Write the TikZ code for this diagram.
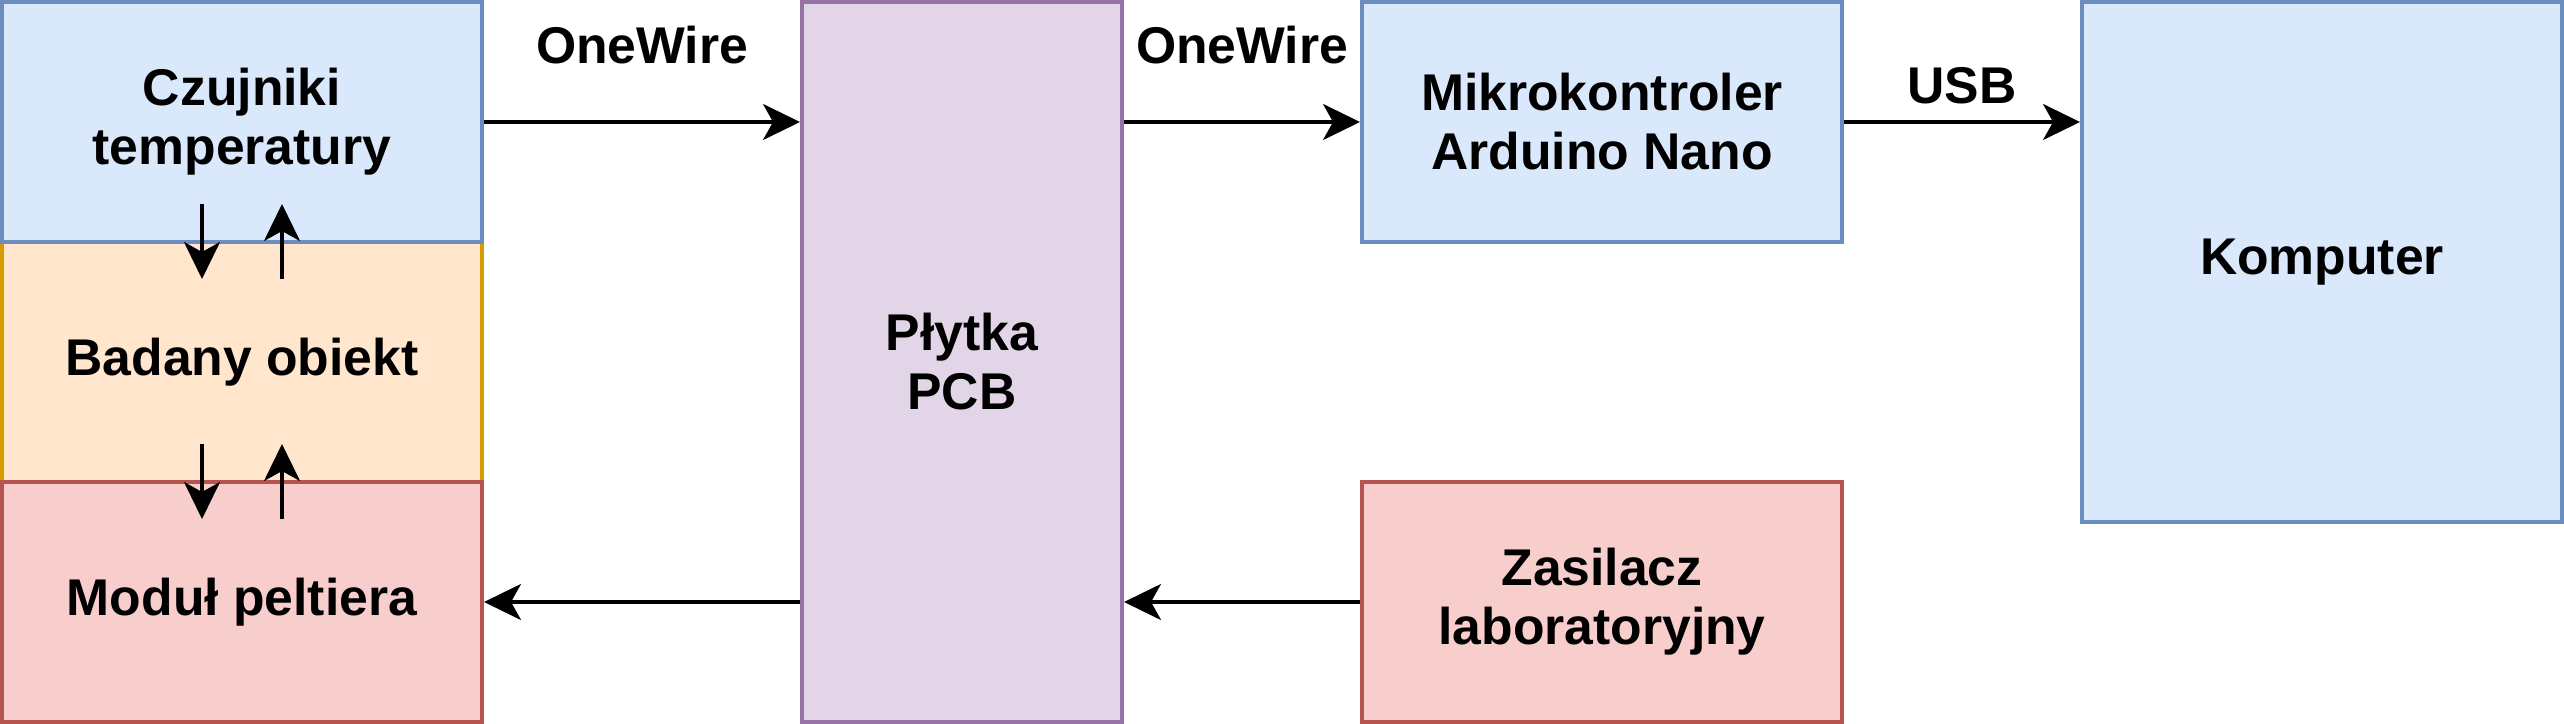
\documentclass[tikz,border=0pt]{standalone}
\usepackage{fontspec}
\setmainfont{Liberation Sans}
\usetikzlibrary{arrows.meta}
\definecolor{bfill}{HTML}{DAE8FC}\definecolor{bdraw}{HTML}{6C8EBF}
\definecolor{ofill}{HTML}{FFE6CC}\definecolor{odraw}{HTML}{D79B00}
\definecolor{rfill}{HTML}{F8CECC}\definecolor{rdraw}{HTML}{B85450}
\definecolor{pfill}{HTML}{E1D5E7}\definecolor{pdraw}{HTML}{9673A6}
\begin{document}
\begin{tikzpicture}[x=0.1mm,y=-0.1mm,>={Stealth[length=3.7mm,width=3.6mm,inset=1mm]},box/.style={draw=bdraw,fill=bfill,line width=0.4mm,minimum width=48mm,minimum height=24mm,align=center,inner sep=0pt,font=\fontsize{14.7}{16.8}\selectfont\bfseries},obox/.style={box,draw=odraw,fill=ofill},rbox/.style={box,draw=rdraw,fill=rfill},pbox/.style={box,draw=pdraw,fill=pfill,minimum width=32mm,minimum height=72mm},wire/.style={->,line width=0.32mm}]
\useasboundingbox (0,0) rectangle (2564,724);
\node[obox] (badany) at (242,362) {Badany obiekt};
\node[box] (czujniki) at (242,122) {Czujniki\\temperatury};
\node[rbox] (modul) at (242,602) {Moduł peltiera};
\node[pbox] (pcb) at (962,362) {Płytka\\PCB};
\node[box] (mikro) at (1602,122) {Mikrokontroler\\Arduino Nano};
\node[rbox] (zasilacz) at (1602,602) {Zasilacz\\laboratoryjny};
\node[box,minimum height=52mm] (komputer) at (2322,262) {Komputer};
\draw[wire] (czujniki.east)--node[yshift=7.7mm,font=\fontsize{14.7}{16.8}\selectfont\bfseries]{OneWire}(pcb.west |- czujniki.east);
\draw[wire] (pcb.east |- mikro.west)--node[yshift=7.7mm,font=\fontsize{14.7}{16.8}\selectfont\bfseries]{OneWire}(mikro.west);
\draw[wire] (mikro.east)--node[yshift=3.6mm,font=\fontsize{14.7}{16.8}\selectfont\bfseries]{USB}(komputer.west |- mikro.east);
\draw[wire] (pcb.west |- modul.east)--(modul.east);
\draw[wire] (zasilacz.west)--(pcb.east |- zasilacz.west);
\draw[wire] ([xshift=-4mm,yshift=4mm]czujniki.south)--([xshift=-4mm,yshift=-3.9mm]badany.north);
\draw[wire] ([xshift=4mm,yshift=-3.9mm]badany.north)--([xshift=4mm,yshift=4mm]czujniki.south);
\draw[wire] ([xshift=-4mm,yshift=4mm]badany.south)--([xshift=-4mm,yshift=-3.9mm]modul.north);
\draw[wire] ([xshift=4mm,yshift=-3.9mm]modul.north)--([xshift=4mm,yshift=4mm]badany.south);
\end{tikzpicture}
\end{document}
